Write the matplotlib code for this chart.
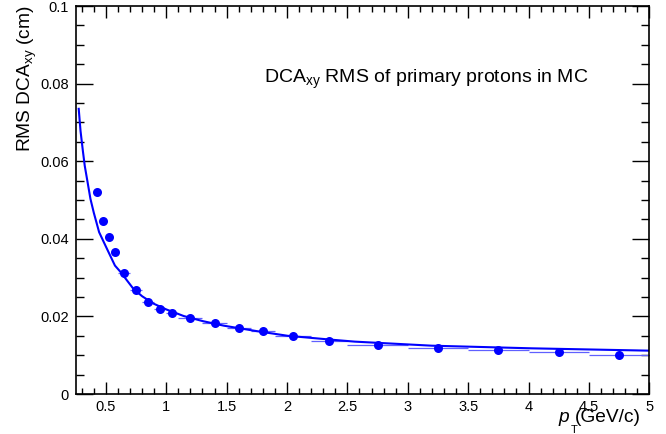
import matplotlib
matplotlib.use("Agg")
import matplotlib.pyplot as plt
from matplotlib.ticker import MultipleLocator, FixedFormatter, FixedLocator

plt.rcParams['font.family'] = ['Liberation Sans', 'DejaVu Sans']
plt.rcParams['mathtext.fontset'] = 'custom'
plt.rcParams['mathtext.rm'] = 'Liberation Sans'
plt.rcParams['mathtext.it'] = 'Liberation Sans:italic'

# --- data ---
bin_lo = [0.40, 0.45, 0.50, 0.55, 0.60, 0.70, 0.80, 0.90, 1.00, 1.10,
          1.30, 1.50, 1.70, 1.90, 2.20, 2.50, 3.00, 3.50, 4.00, 4.50]
bin_hi = [0.45, 0.50, 0.55, 0.60, 0.70, 0.80, 0.90, 1.00, 1.10, 1.30,
          1.50, 1.70, 1.90, 2.20, 2.50, 3.00, 3.50, 4.00, 4.50, 5.00]
rms = [0.0520, 0.0447, 0.0404, 0.0366, 0.0311, 0.0269, 0.0238, 0.0219, 0.0209, 0.0196,
       0.0184, 0.0169, 0.0162, 0.0149, 0.0136, 0.01255, 0.01186, 0.01134, 0.01082, 0.01013]

# fit curve
fit_pt = [0.275, 0.29, 0.31, 0.325, 0.35, 0.372, 0.40, 0.444, 0.50, 0.575, 0.62,
          0.728, 0.80, 0.894, 1.0, 1.144, 1.30, 1.478, 1.75, 2.006, 2.367, 2.56,
          3.2, 4.03, 5.0]
fit_val = [0.0735, 0.0678, 0.0625, 0.0588, 0.0543, 0.0503, 0.0467, 0.0417, 0.0380,
           0.0331, 0.0315, 0.0271, 0.0252, 0.0233, 0.0218, 0.0201, 0.0188, 0.0176,
           0.0162, 0.0150, 0.0140, 0.0135, 0.01245, 0.01177, 0.01117]

title = r'DCA$_{\mathrm{xy}}$ RMS of primary protons in MC'
ylabel = r'RMS DCA$_{\mathrm{xy}}$ (cm)'


def main():
    fig = plt.figure(figsize=(6.66, 4.34), dpi=100)
    ax = fig.add_axes([75.7 / 666, 1 - 394 / 434, (649.3 - 75.7) / 666, (394 - 6) / 434])

    centers = [(lo + hi) / 2 for lo, hi in zip(bin_lo, bin_hi)]
    xerr = [(hi - lo) / 2 for lo, hi in zip(bin_lo, bin_hi)]

    ax.errorbar(centers, rms, xerr=xerr, fmt='none', ecolor='#6060ff', elinewidth=0.9)
    ax.plot(centers, rms, 'o', color='#0000ff', markersize=6.5, markeredgewidth=0)
    ax.plot(fit_pt, fit_val, '-', color='#0000ff', linewidth=1.5)

    ax.set_xlim(0.25, 5.0)
    ax.set_ylim(0, 0.1)

    xt = [0.5, 1, 1.5, 2, 2.5, 3, 3.5, 4, 4.5, 5]
    ax.xaxis.set_major_locator(FixedLocator(xt))
    ax.xaxis.set_major_formatter(FixedFormatter(['0.5', '1', '1.5', '2', '2.5', '3', '3.5', '4', '4.5', '5']))
    ax.xaxis.set_minor_locator(MultipleLocator(0.1))
    yt = [0, 0.02, 0.04, 0.06, 0.08, 0.1]
    ax.yaxis.set_major_locator(FixedLocator(yt))
    ax.yaxis.set_major_formatter(FixedFormatter(['0', '0.02', '0.04', '0.06', '0.08', '0.1']))
    ax.yaxis.set_minor_locator(MultipleLocator(0.005))

    ax.tick_params(axis='both', which='both', direction='in', top=True, right=True,
                   labelsize=10.5, width=1, color='black')
    ax.tick_params(axis='x', which='major', length=8.4, pad=4)
    ax.tick_params(axis='x', which='minor', length=4.2)
    ax.tick_params(axis='y', which='major', length=12.3, pad=5)
    ax.tick_params(axis='y', which='minor', length=6.1)
    for s in ax.spines.values():
        s.set_linewidth(1.2)

    ax.text((588 - 75.7) / 573.6, 0.81, title, transform=ax.transAxes,
            ha='right', va='center', fontsize=14)

    fig.text(27 / 666, 1 - 5 / 434, ylabel, rotation=90, ha='center', va='top', fontsize=13.8)

    # x title: italic p, small T below, then the unit
    fig.text(641 / 666, 1 - 422 / 434, '(GeV/c)', ha='right', va='baseline', fontsize=13.8)
    fig.text(569 / 666, 1 - 422 / 434, 'p', style='italic', ha='right', va='baseline', fontsize=13.8)
    fig.text(571 / 666, 1 - 425 / 434, 'T', ha='left', va='top', fontsize=8)

    fig.savefig('out.png', dpi=100)


if __name__ == '__main__':
    main()
